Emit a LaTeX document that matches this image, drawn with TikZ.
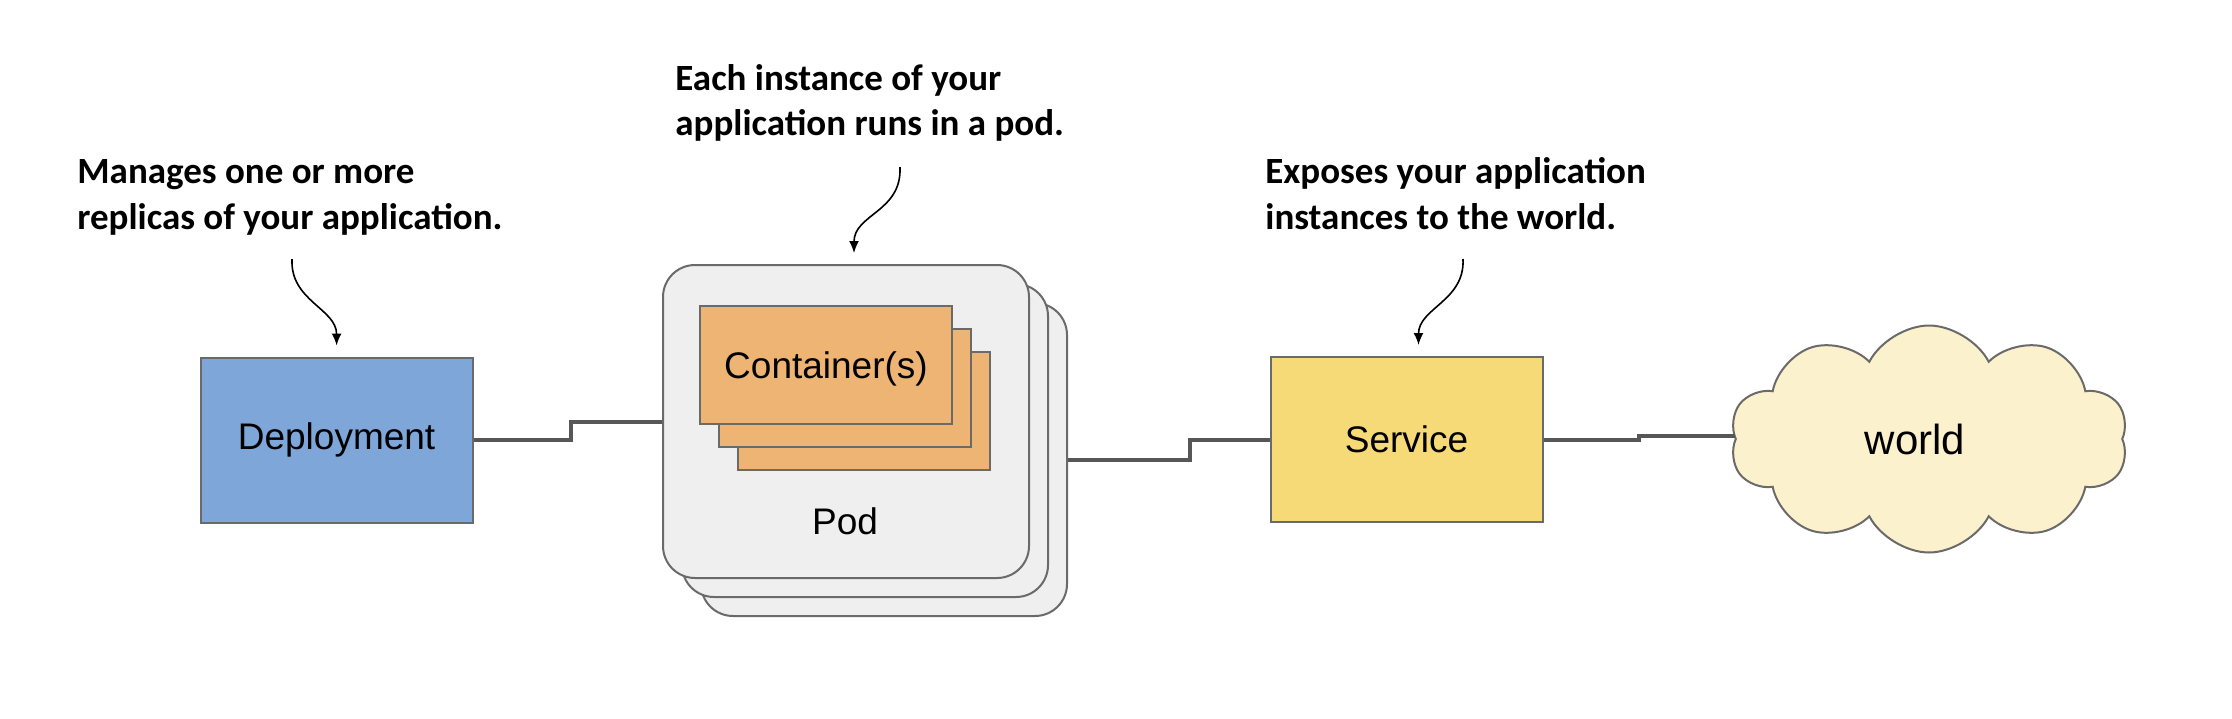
\documentclass[tikz,border=0pt]{standalone}
\usepackage{fontspec}
\setmainfont{Liberation Sans}
\newfontfamily\notefont{Carlito}
\usepackage{tikz}
\usetikzlibrary{arrows.meta, shapes.symbols, calc}
\definecolor{deplblue}{HTML}{7EA6D8}
\definecolor{svcyellow}{HTML}{F7DA78}
\definecolor{contorange}{HTML}{EDB474}
\definecolor{podgray}{HTML}{EFEFEF}
\definecolor{cloudcream}{HTML}{FCF1CD}
\definecolor{edgegray}{HTML}{6A6A6A}
\definecolor{linegray}{HTML}{575757}
\newcommand{\labelfont}{\fontsize{18.5}{22}\selectfont}
\tikzset{%
	box/.style={draw=edgegray, line width=1pt, rectangle, minimum width=136pt,%
		minimum height=82.5pt, font=\labelfont},
	podbox/.style={draw=edgegray, line width=1pt, fill=podgray, rectangle,%
		rounded corners=16pt, minimum width=183pt, minimum height=156.5pt},
	cont/.style={draw=edgegray, line width=1pt, fill=contorange, rectangle,%
		minimum width=126pt, minimum height=59pt, font=\labelfont},
	note/.style={align=left, anchor=west, inner sep=0pt,%
		font={\notefont\bfseries\fontsize{18.5}{22.75}\selectfont}},
	connector/.style={draw=linegray, line width=2pt},
	pointer/.style={-{Latex[length=6pt,width=5pt]}, line width=0.8pt, shorten >=5.5pt}
}

\begin{document}
\begin{tikzpicture}[x=0.5pt, y=-0.5pt]
	\useasboundingbox (0,0) rectangle (2232,718);

	\node[box, fill=deplblue] (deploy) at (336.6,440) {Deployment};
	\node[podbox] (pod3) at (884,459.5) {};
	\node[podbox] (pod2) at (865,440.5) {};
	\node[podbox] (pod1) at (846,421.5) {};
	\node[cont] (cont3) at (864,411) {};
	\node[cont] (cont2) at (845,388) {};
	\node[cont, text depth=-3pt] (cont1) at (826,365) {Container(s)};
	\node[font=\labelfont] (podlabel) at (845,521) {Pod};
	\node[box, fill=svcyellow] (svc) at (1406.5,439.5) {Service};
	\node[cloud, draw=edgegray, line width=1pt, fill=cloudcream, cloud puffs=10,%
		cloud puff arc=125, aspect=1.75, minimum width=199pt, minimum height=113.5pt,%
		inner sep=0pt, font=\fontsize{21}{25}\selectfont] (world) at (1929,439) {world\hspace*{14pt}};

	% notes
	\node[note] (deploynote) at (77,197.5) {Manages one or more\\replicas of your application.};
	\node[note] (podnote) at (675,103) {Each instance of your\\application runs in a pod.};
	\node[note] (svcnote) at (1265,193.5) {Exposes your application\\instances to the world.};
	\coordinate (deploytail) at (292,259);
	\coordinate (podtail) at (900,167);
	\coordinate (svctail) at (1463,259);

	\draw[pointer] (deploytail) .. controls +(-2,42) and +(0,-48) .. (deploy.north);
	\draw[pointer] (podtail) .. controls +(2,45) and +(0,-50) .. ([xshift=4pt]pod1.north);
	\draw[pointer] (svctail) .. controls +(2,42) and +(0,-48) .. ([xshift=6pt]svc.north);

	\draw[connector] (deploy.east) -- +(97,0) |- (pod1.west);
	\draw[connector] (pod3.east) -- +(122,0) |- (svc.west);
	\draw[connector] (svc.east) -- +(95,0) |- ([yshift=1.5pt]world.west);
\end{tikzpicture}
\end{document}
